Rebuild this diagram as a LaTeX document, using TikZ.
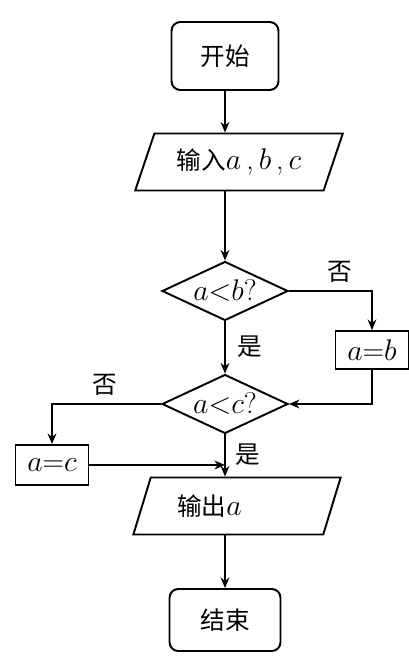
\documentclass[tikz,border=0pt]{standalone}
\usepackage{fix-cm}
\usepackage{fontspec}
\usetikzlibrary{shapes.geometric, positioning, arrows.meta, calc}
\newfontfamily\cjk{Noto Sans CJK SC}
\newcommand\mfont{\fontsize{17}{19}\selectfont}

\begin{document}
\begin{tikzpicture}[x=0.02cm, y=-0.02cm, line width=1.1pt,
    flow/.style={-{Stealth[length=6pt,width=5pt]}},
    term/.style={draw, rounded corners=5pt, minimum width=2.14cm,
                 minimum height=1.36cm, font=\fontsize{14}{16}\selectfont\cjk},
    io/.style={draw, trapezium, trapezium left angle=62,
               trapezium right angle=118, trapezium stretches=true,
               minimum width=4.16cm, minimum height=1.14cm, inner sep=0pt,
               font=\fontsize{14}{16}\selectfont},
    test/.style={draw, diamond, aspect=2.13, minimum width=2.52cm,
                 minimum height=1.18cm, inner sep=0pt, font=\mfont},
    assign/.style={draw, minimum width=1.46cm, minimum height=0.76cm,
                   inner sep=0pt, font=\mfont},
    lbl/.style={font=\fontsize{14}{16}\selectfont\cjk}]
  \useasboundingbox (0,0) rectangle (409,656);
  % ---- main column ----
  \node[term] (start) at (225,56) {开始};
  \node[io] (in) at (239,162)
        {{\cjk 输入}{\mfont$a$\,,\,$b$\,,\,$c$}};
  \node[test] (d1) at (225,291) {$a{<}b?$};
  \node[test] (d2) at (225,404) {$a{<}c?$};
  \node[io] (out) at (237,506) {{\cjk 输出}{\mfont$a$}\kern1.1cm\relax};
  \node[term, minimum width=2.22cm, minimum height=1.24cm] (end) at (225,620) {结束};
  % ---- side boxes ----
  \node[assign] (ab) at (372,350) {$a{=}b$};
  \node[assign, minimum height=0.8cm] (ac) at (52,465) {$a{=}c$};
  % ---- branch labels ----
  \node[lbl] (no1) at (340,272) {否};
  \node[lbl] (yes1) at (250,347) {是};
  \node[lbl] (no2) at (105,385) {否};
  \node[lbl] (yes2) at (248,455) {是};
  % ---- connectors ----
  \draw[flow] (start) -- (start |- in.north);
  \draw[flow] (d1 |- in.south) -- (d1.north);
  \draw[flow] (d1.south) -- (d2.north);
  \draw[flow] (d1.east) -| (ab.north);
  \draw[flow] (ab.south) |- (d2.east);
  \draw[flow] (d2.west) -| (ac.north);
  \draw[flow] (d2.south) -- (d2.south |- out.north);
  \coordinate (join) at (d2.south |- ac.east);
  \draw[flow] (ac.east) -- (join);
  \draw[flow] (end |- out.south) -- (end.north);
\end{tikzpicture}
\end{document}
